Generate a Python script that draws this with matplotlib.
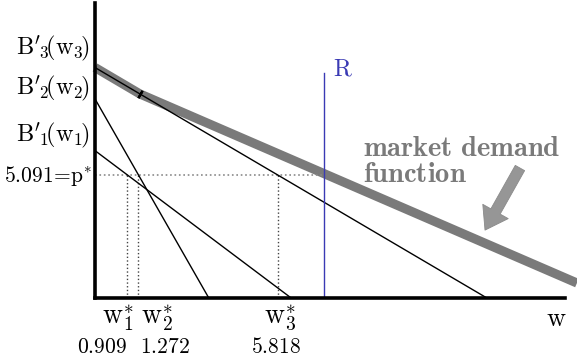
import numpy as np
import matplotlib.pyplot as plt

plt.rcParams['mathtext.fontset'] = 'cm'

# equilibrium price and individual allocations
p_star = 5.091
w_star = [0.909, 1.272, 5.818]

# marginal benefit lines B'_i(w) = a_i - b_i * w
intercepts = [5.96, 7.914, 9.43]
slopes = [0.953, 2.219, 0.746]

# kinked market demand function
market_w = [-0.147, 1.32, 15.58]
market_p = [9.54, 8.445, 0.62]

# available resource
R = 7.33

xmin, xmax = -0.147, 15.19
ymin, ymax = 0.0, 12.21

fig = plt.figure(figsize=(5.77, 3.59), dpi=100)
ax = fig.add_axes([95 / 577, 61 / 359, 470 / 577, 295 / 359])
ax.set_xlim(xmin, xmax)
ax.set_ylim(ymin, ymax)
ax.set_xticks([])
ax.set_yticks([])
for side in ["top", "right"]:
    ax.spines[side].set_visible(False)
for side in ["left", "bottom"]:
    ax.spines[side].set_linewidth(2.6)
    ax.spines[side].set_zorder(5)

gray = "#7a7a7a"
blue = "#3a3ab4"

# market demand (thick gray)
ax.plot(market_w, market_p, color=gray, lw=6.6, solid_capstyle="butt",
        clip_on=False, zorder=1)

# individual lines
for a, b in zip(intercepts, slopes):
    w = np.array([xmin, a / b])
    ax.plot(w, a - b * w, color="black", lw=1.0, zorder=2)

# kink of the demand curve
ax.plot(market_w[1], market_p[1], marker=(2, 2, -30), ms=6, mew=1.6,
        color="black", zorder=3)

# resource constraint
ax.plot([R, R], [0, 9.31], color=blue, lw=1.0, zorder=2)
ax.text(7.62, 9.2, r"$\mathrm{R}$", color=blue, fontsize=17.5, va="baseline")

# equilibrium price and allocations
ax.plot([xmin, R], [p_star, p_star], ls=":", color="#8a8a8a", lw=1.2, zorder=1)
w_off = [-7, 13, 1.5]
n_off = [-18, 19, -1.3]
for i, (w, dw, dn) in enumerate(zip(w_star, w_off, n_off), start=1):
    ax.plot([w, w], [0, p_star], ls=":", color="#444444", lw=1.0, zorder=1)
    ax.annotate(rf"$\mathrm{{w}}_{i}^{{\ast}}$", xy=(w, 0), xytext=(dw, -18.7),
                textcoords="offset points", ha="center", va="baseline",
                fontsize=20, annotation_clip=False)
    ax.annotate(rf"${w:.3f}$", xy=(w, 0), xytext=(dn, -39.4),
                textcoords="offset points", ha="center", va="baseline",
                fontsize=15.5, annotation_clip=False)

ax.annotate(r"$5.091\!=\!\mathrm{p}^{\ast}$", xy=(xmin, p_star), xytext=(-1.5, -5),
            textcoords="offset points", ha="right", va="baseline",
            fontsize=15.5, annotation_clip=False)

# labels of the individual curves
for i, y in zip([3, 2, 1], [10.1, 8.44, 6.50]):
    ax.annotate(rf"$\mathrm{{B}}'_{{\!{i}}}\!(\mathrm{{w}}_{{{i}}}\!)$", xy=(xmin, y),
                xytext=(-4.3, 0), textcoords="offset points", ha="right",
                va="baseline", fontsize=17.5, annotation_clip=False)

ax.text(14.9, -1.17, r"$\mathrm{w}$", fontsize=19, ha="center", va="baseline")

# demand label and arrow
ax.text(8.6, 4.81, "$\\mathbf{market\\ demand}$\n$\\mathbf{function}$",
        color=gray, fontsize=20.5, va="baseline", ha="left", linespacing=0.9)
ax.annotate("", xy=(12.58, 2.81), xytext=(13.72, 5.38),
            arrowprops=dict(arrowstyle="simple,head_width=1.5,head_length=1.1,tail_width=0.55",
                            mutation_scale=14, fc="#969696", ec="#8a8a8a",
                            lw=0.6, shrinkA=0, shrinkB=0))

fig.savefig("out.png", dpi=100)
